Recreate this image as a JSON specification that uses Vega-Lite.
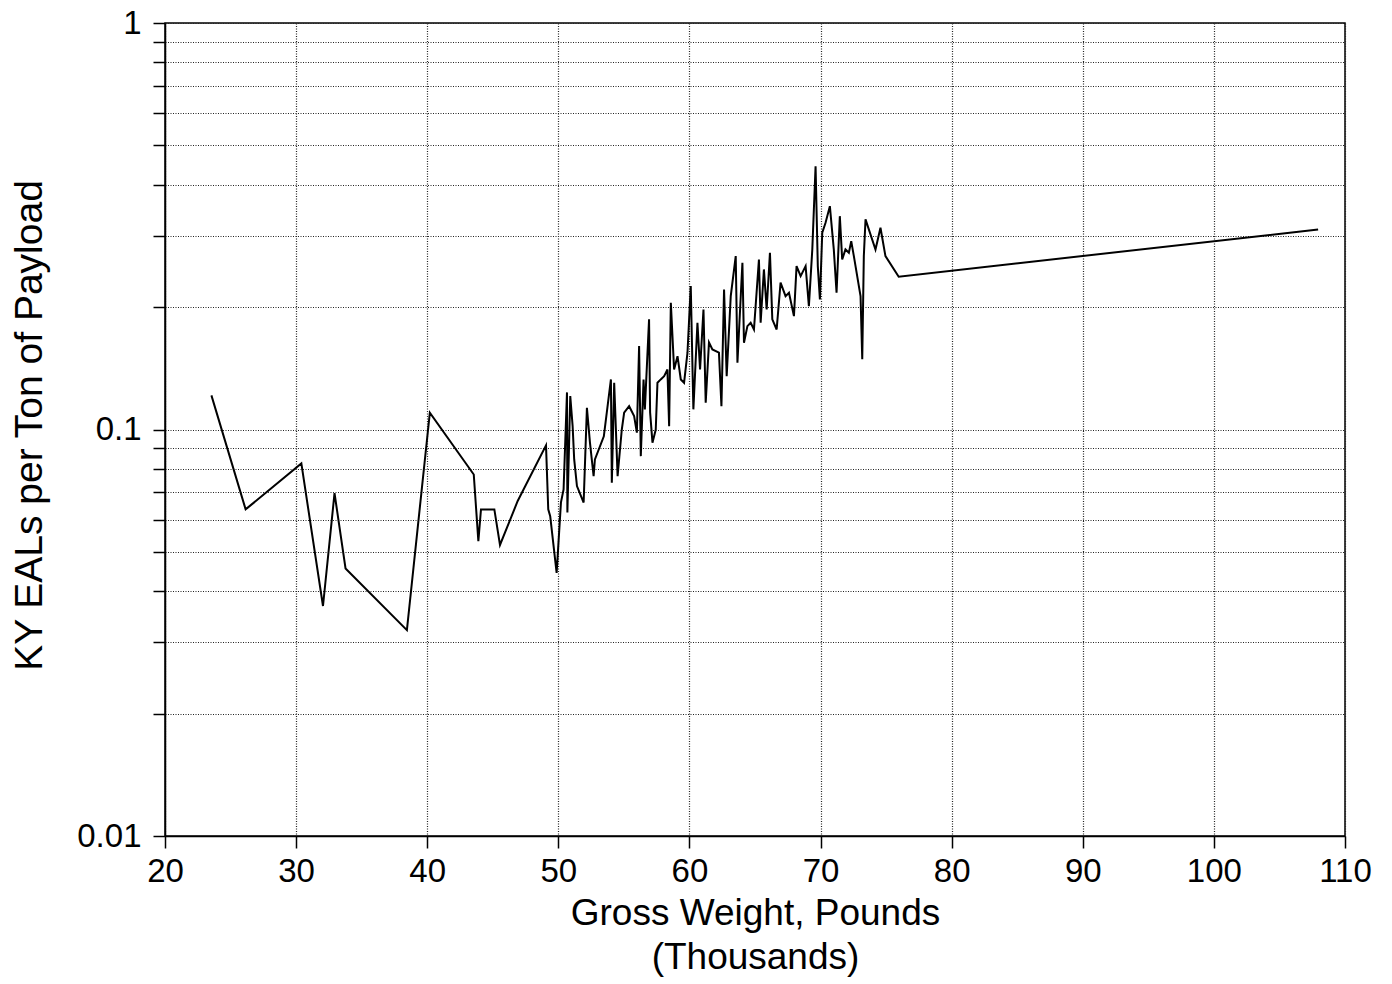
{
  "$schema": "https://vega.github.io/schema/vega-lite/v6.json",
  "width": 1180,
  "height": 813,
  "autosize": {"type": "none"},
  "padding": {"left": 165, "top": 23, "right": 47, "bottom": 148},
  "background": "white",
  "config": {"view": {"stroke": "black", "strokeWidth": 1.5}, "font": "Liberation Sans"},
  "data": {"values": [
    {"w": 23.54, "e": 0.1213}, {"w": 26.15, "e": 0.0636}, {"w": 30.40, "e": 0.0825}, {"w": 32.05, "e": 0.0368},
    {"w": 32.93, "e": 0.0697}, {"w": 33.77, "e": 0.0455}, {"w": 38.45, "e": 0.0321}, {"w": 40.20, "e": 0.1100},
    {"w": 43.55, "e": 0.0775}, {"w": 43.90, "e": 0.0531}, {"w": 44.10, "e": 0.0636}, {"w": 45.12, "e": 0.0636},
    {"w": 45.55, "e": 0.0520}, {"w": 46.90, "e": 0.0667}, {"w": 49.06, "e": 0.0914}, {"w": 49.23, "e": 0.0636},
    {"w": 49.38, "e": 0.0612}, {"w": 49.87, "e": 0.0444}, {"w": 50.20, "e": 0.0662}, {"w": 50.40, "e": 0.0712},
    {"w": 50.66, "e": 0.1234}, {"w": 50.69, "e": 0.0625}, {"w": 50.91, "e": 0.1208}, {"w": 51.09, "e": 0.1019},
    {"w": 51.21, "e": 0.0844}, {"w": 51.42, "e": 0.0726}, {"w": 51.93, "e": 0.0661}, {"w": 52.18, "e": 0.1131},
    {"w": 52.41, "e": 0.0930}, {"w": 52.69, "e": 0.0768}, {"w": 52.79, "e": 0.0844}, {"w": 53.47, "e": 0.0962},
    {"w": 54.01, "e": 0.1328}, {"w": 54.08, "e": 0.0740}, {"w": 54.26, "e": 0.1303}, {"w": 54.52, "e": 0.0768},
    {"w": 54.84, "e": 0.1000}, {"w": 55.02, "e": 0.1100}, {"w": 55.40, "e": 0.1141}, {"w": 55.78, "e": 0.1079},
    {"w": 55.99, "e": 0.0982}, {"w": 56.16, "e": 0.1604}, {"w": 56.29, "e": 0.0860}, {"w": 56.50, "e": 0.1328},
    {"w": 56.60, "e": 0.1121}, {"w": 56.92, "e": 0.1866}, {"w": 57.00, "e": 0.1102}, {"w": 57.18, "e": 0.0928},
    {"w": 57.43, "e": 0.1000}, {"w": 57.56, "e": 0.1303}, {"w": 57.81, "e": 0.1328}, {"w": 58.07, "e": 0.1353},
    {"w": 58.32, "e": 0.1405}, {"w": 58.45, "e": 0.1019}, {"w": 58.58, "e": 0.2050}, {"w": 58.83, "e": 0.1405},
    {"w": 59.09, "e": 0.1515}, {"w": 59.34, "e": 0.1328}, {"w": 59.59, "e": 0.1303}, {"w": 59.85, "e": 0.1545},
    {"w": 60.10, "e": 0.2253}, {"w": 60.30, "e": 0.1121}, {"w": 60.61, "e": 0.1831}, {"w": 60.81, "e": 0.1405},
    {"w": 61.07, "e": 0.1974}, {"w": 61.24, "e": 0.1164}, {"w": 61.49, "e": 0.1638}, {"w": 61.75, "e": 0.1574},
    {"w": 62.25, "e": 0.1545}, {"w": 62.44, "e": 0.1141}, {"w": 62.64, "e": 0.2211}, {"w": 62.84, "e": 0.1353},
    {"w": 63.15, "e": 0.2129}, {"w": 63.53, "e": 0.2670}, {"w": 63.66, "e": 0.1460}, {"w": 64.04, "e": 0.2572},
    {"w": 64.16, "e": 0.1635}, {"w": 64.42, "e": 0.1796}, {"w": 64.67, "e": 0.1831}, {"w": 64.92, "e": 0.1762},
    {"w": 65.30, "e": 0.2620}, {"w": 65.43, "e": 0.1831}, {"w": 65.68, "e": 0.2476}, {"w": 65.89, "e": 0.1974},
    {"w": 66.14, "e": 0.2722}, {"w": 66.32, "e": 0.1866}, {"w": 66.65, "e": 0.1762}, {"w": 66.95, "e": 0.2297},
    {"w": 67.33, "e": 0.2129}, {"w": 67.59, "e": 0.2170}, {"w": 67.97, "e": 0.1901}, {"w": 68.17, "e": 0.2523},
    {"w": 68.48, "e": 0.2384}, {"w": 68.86, "e": 0.2523}, {"w": 69.11, "e": 0.2011}, {"w": 69.37, "e": 0.2773},
    {"w": 69.62, "e": 0.4444}, {"w": 69.79, "e": 0.2523}, {"w": 69.95, "e": 0.2089}, {"w": 70.13, "e": 0.3048},
    {"w": 70.38, "e": 0.3226}, {"w": 70.71, "e": 0.3543}, {"w": 71.01, "e": 0.2773}, {"w": 71.22, "e": 0.2170},
    {"w": 71.47, "e": 0.3348}, {"w": 71.65, "e": 0.2620}, {"w": 71.90, "e": 0.2773}, {"w": 72.16, "e": 0.2722},
    {"w": 72.34, "e": 0.2906}, {"w": 72.54, "e": 0.2670}, {"w": 73.05, "e": 0.2129}, {"w": 73.18, "e": 0.1488},
    {"w": 73.30, "e": 0.2670}, {"w": 73.43, "e": 0.3288}, {"w": 74.19, "e": 0.2773}, {"w": 74.57, "e": 0.3135},
    {"w": 74.95, "e": 0.2670}, {"w": 75.96, "e": 0.2376}, {"w": 107.95, "e": 0.3105}
  ]},
  "mark": {"type": "line", "color": "black", "strokeWidth": 2},
  "encoding": {
    "x": {
      "field": "w", "type": "quantitative",
      "scale": {"domain": [20, 110], "nice": false, "zero": false},
      "axis": {
        "values": [20, 30, 40, 50, 60, 70, 80, 90, 100, 110],
        "title": ["Gross Weight, Pounds", "(Thousands)"],
        "grid": true, "gridDash": [1, 1.5], "gridColor": "#222222", "gridWidth": 1.2,
        "tickSize": 12, "tickColor": "black", "tickWidth": 1.5,
        "domainColor": "black", "domainWidth": 1.5,
        "labelFontSize": 33, "labelColor": "black", "labelPadding": 7, "labelFlush": false,
        "titleFontSize": 37, "titleFontWeight": "normal", "titleColor": "black",
        "titleLineHeight": 44, "titleBaseline": "alphabetic", "titleY": 88
      }
    },
    "y": {
      "field": "e", "type": "quantitative",
      "scale": {"type": "log", "domain": [0.01, 1], "nice": false},
      "axis": {
        "values": [0.01, 0.02, 0.03, 0.04, 0.05, 0.06, 0.07, 0.08, 0.09, 0.1, 0.2, 0.3, 0.4, 0.5, 0.6, 0.7, 0.8, 0.9, 1],
        "labelExpr": "datum.value == 1 ? '1' : datum.value == 0.1 ? '0.1' : datum.value == 0.01 ? '0.01' : ''",
        "title": "KY EALs per Ton of Payload",
        "grid": true, "gridDash": [1, 1.5], "gridColor": "#222222", "gridWidth": 1.2,
        "tickSize": 12, "tickColor": "black", "tickWidth": 1.5,
        "domainColor": "black", "domainWidth": 1.5,
        "labelFontSize": 33, "labelColor": "black", "labelPadding": 12, "labelFlush": false,
        "titleFontSize": 39, "titleFontWeight": "normal", "titleColor": "black",
        "titleBaseline": "alphabetic", "titleX": -124, "titleY": 402
      }
    }
  }
}
